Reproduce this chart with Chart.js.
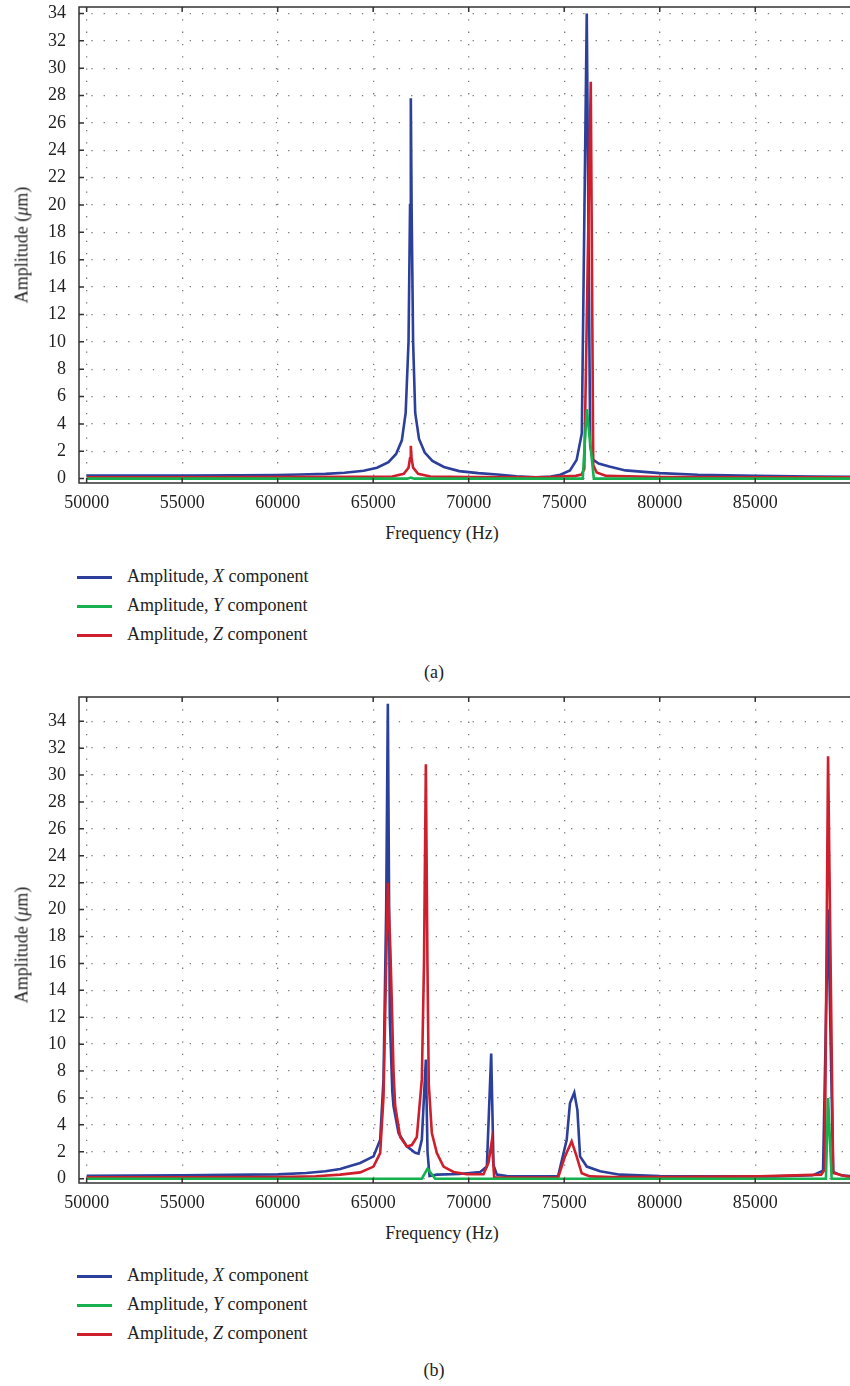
<!DOCTYPE html>
<html lang="en">
<head>
<meta charset="UTF-8">
<title>Amplitude vs Frequency</title>
<script src="https://cdn.jsdelivr.net/npm/chart.js"></script>
<style>
    body {
        margin: 0;
        width: 850px;
        height: 1386px;
        overflow: hidden;
        position: relative;
        background: #fff;
        color: #222;
        font-family: "Liberation Serif", "Times New Roman", Tinos, "DejaVu Serif", serif;
    }
    canvas { position: absolute; left: 0; }
    .txt { position: absolute; font-size: 18px; white-space: nowrap; transform: translate(-50%, -50%); }
    .ytitle { transform: translate(-50%, -50%) rotate(-90deg); }
    .row { position: absolute; left: 77px; height: 0; font-size: 18px; white-space: nowrap; }
    .swatch { position: absolute; left: 0; top: -1px; width: 35px; height: 2.6px; }
    .row span.lbl { position: absolute; left: 50px; top: -11px; }
</style>
</head>
<body>
<canvas id="chartA" width="850" height="513"></canvas>
<canvas id="chartB" width="850" height="523"></canvas>

<script>
// tick values
const xTicks = [50000, 55000, 60000, 65000, 70000, 75000, 80000, 85000];
const yTicks = [0, 2, 4, 6, 8, 10, 12, 14, 16, 18, 20, 22, 24, 26, 28, 30, 32, 34];
const seriesNames = ['X', 'Y', 'Z'];

// panel (a)
const freqA_X = [50000, 52000, 55000, 58000, 60000, 61200, 62500, 63500, 64500, 65200, 65800, 66200, 66500, 66700, 66850, 66930, 66970, 67010, 67090, 67200, 67400, 67700, 68100, 68700, 69500, 70500, 71500, 72500, 73500, 74300, 74800, 75300, 75650, 75920, 76180, 76360, 76500, 76800, 77360, 78200, 80000, 82000, 85000, 88000, 90000];
const ampA_X  = [0.22, 0.22, 0.23, 0.25, 0.27, 0.3, 0.35, 0.43, 0.58, 0.8, 1.2, 1.8, 2.8, 4.8, 10, 20, 27.8, 20, 10, 4.8, 2.9, 1.9, 1.3, 0.85, 0.55, 0.4, 0.3, 0.17, 0.1, 0.15, 0.28, 0.6, 1.37, 3.3, 34, 2.4, 1.4, 1.1, 0.88, 0.6, 0.4, 0.28, 0.2, 0.16, 0.14];
const freqA_Y = [50000, 66800, 66970, 67150, 75970, 76180, 76550, 90000];
const ampA_Y  = [0, 0, 0.08, 0, 0, 5.07, 0, 0];
const freqA_Z = [50000, 55000, 60000, 64000, 66000, 66600, 66850, 66930, 66970, 67010, 67090, 67350, 68000, 70000, 74000, 75600, 75900, 76050, 76390, 76520, 76700, 77200, 80000, 85000, 90000];
const ampA_Z  = [0.1, 0.1, 0.11, 0.13, 0.16, 0.35, 0.8, 1.5, 2.4, 1.5, 0.8, 0.35, 0.16, 0.11, 0.1, 0.2, 0.3, 0.7, 29, 1.0, 0.45, 0.2, 0.12, 0.1, 0.1];

// panel (b)
const freqB_X = [50000, 55000, 60000, 61500, 62500, 63272, 64319, 65017, 65366, 65541, 65680, 65767, 65870, 66000, 66064, 66326, 66762, 67198, 67373, 67547, 67669, 67757, 67844, 67949, 68333, 69500, 70601, 70950, 71177, 71299, 71474, 71997, 73500, 74680, 75130, 75300, 75527, 75690, 75830, 76180, 76880, 77920, 80000, 83000, 86000, 88000, 88550, 88812, 89080, 89500, 90000];
const ampB_X  = [0.22, 0.26, 0.32, 0.42, 0.55, 0.72, 1.17, 1.66, 2.9, 7.4, 20, 35.3, 12, 6.5, 5.4, 3.4, 2.4, 1.93, 1.86, 2.9, 6.4, 8.85, 2.0, 0.2, 0.3, 0.35, 0.5, 0.9, 9.3, 1.0, 0.3, 0.2, 0.18, 0.2, 2.9, 5.6, 6.4, 5.1, 1.66, 0.9, 0.55, 0.3, 0.2, 0.17, 0.17, 0.25, 0.6, 20, 0.5, 0.25, 0.2];
const freqB_Y = [50000, 67547, 67844, 68246, 88700, 88812, 89000, 90000];
const ampB_Y  = [0, 0, 0.75, 0, 0, 6.0, 0, 0];
const freqB_Z = [50000, 55000, 60000, 62000, 63272, 64319, 65017, 65366, 65541, 65767, 65900, 65977, 66064, 66151, 66413, 66762, 67024, 67285, 67547, 67660, 67757, 67840, 67910, 68071, 68333, 68682, 69205, 69903, 70775, 71037, 71211, 71334, 71474, 72500, 74680, 75040, 75390, 75650, 75916, 76350, 77500, 80000, 85250, 88450, 88640, 88812, 89080, 89790, 90000];
const ampB_Z  = [0.1, 0.1, 0.12, 0.18, 0.3, 0.47, 0.9, 1.9, 6.1, 22.0, 17, 13, 8, 5.4, 3.1, 2.4, 2.5, 3.1, 7.4, 16, 30.8, 16, 7, 3.4, 1.9, 0.9, 0.5, 0.33, 0.33, 1.2, 2.8, 0.1, 0.08, 0.08, 0.08, 1.66, 2.77, 1.66, 0.4, 0.17, 0.12, 0.12, 0.17, 0.3, 0.67, 31.4, 0.42, 0.17, 0.15];

const colors = ['#2b3f9b', '#16b04e', '#cd1f2c'];
const tickFont = { family: "'Liberation Serif', 'Times New Roman', Tinos, 'DejaVu Serif', serif", size: 18 };

function pts(xs, ys) {
    return xs.map((x, i) => ({ x: x, y: ys[i] }));
}

const framePlugin = {
    id: 'frame',
    afterDraw(chart) {
        const { ctx, chartArea: a, scales: { x, y } } = chart;
        ctx.save();
        ctx.strokeStyle = '#333';
        ctx.lineWidth = 1.5;
        ctx.beginPath();
        ctx.moveTo(a.right + 2, a.top);
        ctx.lineTo(a.left, a.top);
        ctx.lineTo(a.left, a.bottom);
        ctx.lineTo(a.right + 2, a.bottom);
        ctx.stroke();
        ctx.beginPath();
        xTicks.forEach(v => {
            const px = x.getPixelForValue(v);
            ctx.moveTo(px, a.bottom); ctx.lineTo(px, a.bottom - 5);
            ctx.moveTo(px, a.top); ctx.lineTo(px, a.top + 5);
        });
        yTicks.forEach(v => {
            const py = y.getPixelForValue(v);
            ctx.moveTo(a.left, py); ctx.lineTo(a.left + 5, py);
        });
        ctx.stroke();
        ctx.restore();
    }
};

function makeChart(id, series, yMax) {
    const datasets = series.map((s, i) => ({
        label: 'Amplitude, ' + seriesNames[i] + ' component',
        data: pts(s[0], s[1]),
        borderColor: colors[i],
        borderWidth: 2.6,
        pointRadius: 0,
        tension: 0,
        fill: false,
        order: [2, 0, 1][i]
    }));
    return new Chart(document.getElementById(id), {
        type: 'line',
        data: { datasets: datasets },
        options: {
            responsive: false,
            animation: false,
            layout: { padding: { top: 7, left: 0, right: 0, bottom: 0 } },
            plugins: { legend: { display: false }, tooltip: { enabled: false } },
            scales: {
                x: {
                    type: 'linear', min: 49600, max: 89960,
                    afterBuildTicks: s => { s.ticks = xTicks.map(v => ({ value: v })); },
                    afterFit: s => { s.height = 30; s.paddingLeft = 0; s.paddingRight = 0; },
                    ticks: { font: tickFont, color: '#222', padding: 9, maxRotation: 0, autoSkip: false, callback: v => String(v) },
                    grid: { color: '#7a7a7a', lineWidth: 1.3, drawTicks: false },
                    border: { display: false, dash: [1.3, 11] }
                },
                y: {
                    type: 'linear', min: -0.32, max: yMax,
                    afterBuildTicks: s => { s.ticks = yTicks.map(v => ({ value: v })); },
                    afterFit: s => { s.width = 79; s.paddingTop = 0; s.paddingBottom = 0; },
                    ticks: { font: tickFont, color: '#222', padding: 13, autoSkip: false },
                    grid: { color: '#7a7a7a', lineWidth: 1.3, drawTicks: false },
                    border: { display: false, dash: [1.3, 11] }
                }
            }
        },
        plugins: [framePlugin]
    });
}

function addText(html, x, y, cls) {
    const d = document.createElement('div');
    d.className = 'txt' + (cls ? ' ' + cls : '');
    d.style.left = x + 'px';
    d.style.top = y + 'px';
    d.innerHTML = html;
    document.body.appendChild(d);
}

function addLegend(chart, y0) {
    chart.data.datasets.forEach((ds, i) => {
        const row = document.createElement('div');
        row.className = 'row';
        row.style.top = (y0 + i * 29) + 'px';
        row.innerHTML = '<div class="swatch" style="background:' + ds.borderColor + '"></div>' +
            '<span class="lbl">Amplitude, <i>' + seriesNames[i] + '</i> component</span>';
        document.body.appendChild(row);
    });
}

document.getElementById('chartA').style.top = '0px';
document.getElementById('chartB').style.top = '690px';

const chartA = makeChart('chartA', [[freqA_X, ampA_X], [freqA_Y, ampA_Y], [freqA_Z, ampA_Z]], 34.47);
const chartB = makeChart('chartB', [[freqB_X, ampB_X], [freqB_Y, ampB_Y], [freqB_Z, ampB_Z]], 35.8);

[[0, chartA, '(a)'], [700, chartB, '(b)']].forEach(([off, ch, cap]) => {
    addText('Amplitude (<i>μ</i>m)', 22, 245 + off, 'ytitle');
    addText('Frequency (Hz)', 442, 533 + off);
    addLegend(ch, 577 + off - (off ? 1 : 0));
    addText(cap, 434, 672 + off - (off ? 2 : 0));
});
</script>
</body>
</html>
